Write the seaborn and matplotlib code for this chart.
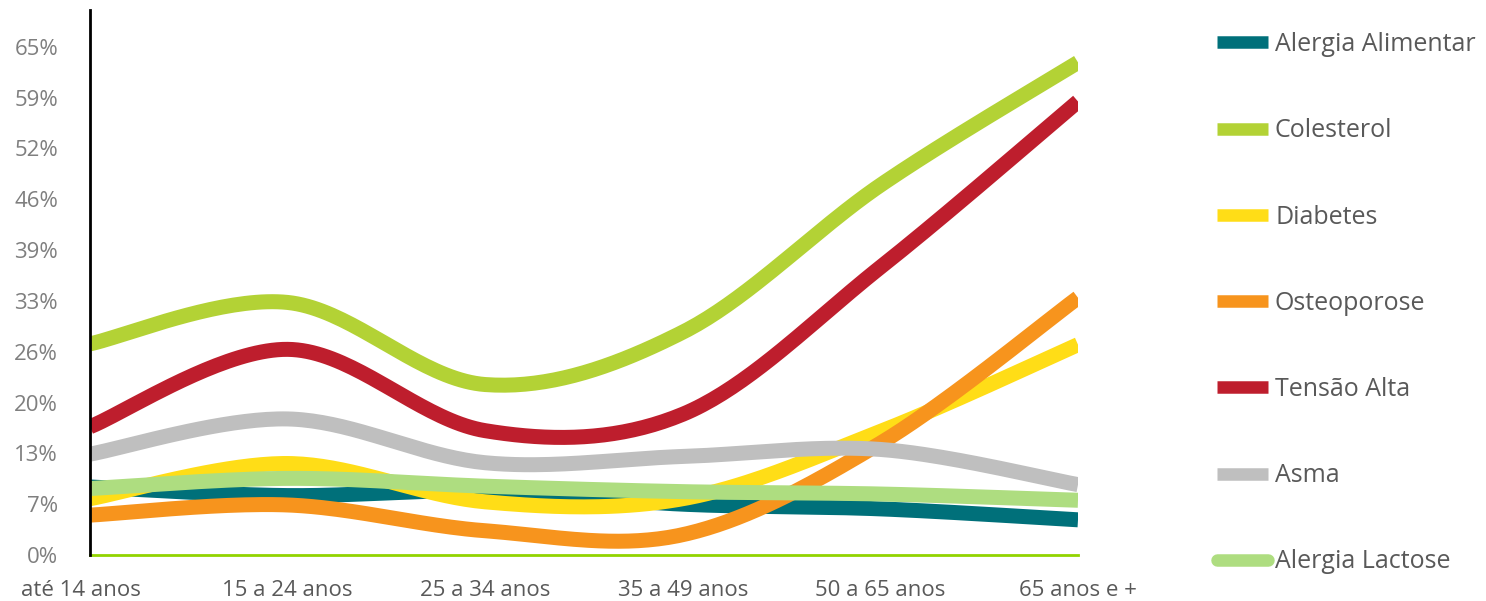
import numpy as np
import pandas as pd
import matplotlib
matplotlib.use("Agg")
import matplotlib.pyplot as plt
import matplotlib.transforms as mtransforms
from matplotlib.lines import Line2D
import seaborn as sns

# Age groups on the x axis
categories = ["até 14 anos", "15 a 24 anos", "25 a 34 anos",
              "35 a 49 anos", "50 a 65 anos", "65 anos e +"]

# Share of respondents per condition and age group (%)
alergia_alimentar = [8.7, 7.6, 8.2, 6.5, 5.9, 4.5]
colesterol = [27.0, 32.3, 21.8, 28.5, 47.3, 63.0]
diabetes = [7.2, 11.7, 6.8, 7.2, 15.8, 26.9]
osteoporose = [5.1, 6.4, 3.1, 2.6, 14.3, 32.9]
tensao_alta = [16.4, 26.3, 15.9, 18.0, 36.8, 58.0]
asma = [12.9, 17.4, 11.8, 12.6, 13.5, 9.0]
alergia_lactose = [8.5, 9.8, 8.8, 8.1, 7.8, 7.0]

series_names = ["Alergia Alimentar", "Colesterol", "Diabetes", "Osteoporose",
                "Tensão Alta", "Asma", "Alergia Lactose"]
series_values = [alergia_alimentar, colesterol, diabetes, osteoporose,
                 tensao_alta, asma, alergia_lactose]
colors = ["#00707A", "#B3D235", "#FFDD17", "#F7941D",
          "#BE1E2D", "#BFBFBF", "#AEDD80"]

# Y axis ticks and their labels
y_ticks = [0.0, 6.5, 13.0, 19.5, 26.0, 32.5, 39.0, 45.5, 52.0, 58.5, 65.0]
y_tick_labels = ["0%", "7%", "13%", "20%", "26%", "33%",
                 "39%", "46%", "52%", "59%", "65%"]


def smooth(xs, ys, steps=40):
    """Catmull-Rom style bezier smoothing that passes through every point."""
    xs = np.asarray(xs, float)
    ys = np.asarray(ys, float)
    n = len(xs)
    out_x, out_y = [], []
    for i in range(n - 1):
        p0 = (xs[max(i - 1, 0)], ys[max(i - 1, 0)])
        p1 = (xs[i], ys[i])
        p2 = (xs[i + 1], ys[i + 1])
        p3 = (xs[min(i + 2, n - 1)], ys[min(i + 2, n - 1)])
        c1 = (p1[0] + (p2[0] - p0[0]) / 6, p1[1] + (p2[1] - p0[1]) / 6)
        c2 = (p2[0] - (p3[0] - p1[0]) / 6, p2[1] - (p3[1] - p1[1]) / 6)
        t = np.linspace(0, 1, steps, endpoint=(i == n - 2))
        b0 = (1 - t) ** 3
        b1 = 3 * (1 - t) ** 2 * t
        b2 = 3 * (1 - t) * t ** 2
        b3 = t ** 3
        out_x.extend(b0 * p1[0] + b1 * c1[0] + b2 * c2[0] + b3 * p2[0])
        out_y.extend(b0 * p1[1] + b1 * c1[1] + b2 * c2[1] + b3 * p2[1])
    return np.array(out_x), np.array(out_y)


frames = []
positions = np.arange(len(categories))
for name, vals in zip(series_names, series_values):
    sx, sy = smooth(positions, vals)
    frames.append(pd.DataFrame({"x": sx, "y": sy, "serie": name}))
data = pd.concat(frames, ignore_index=True)

sns.set_style("white")
plt.rcParams["font.family"] = ["Open Sans", "DejaVu Sans"]

fig = plt.figure(figsize=(14.86, 6.01), dpi=100)
ax = fig.add_axes([90 / 1486, 46 / 601, 988 / 1486, 545 / 601])

line_w = 10.8
for name, col in zip(series_names, colors):
    sub = data[data["serie"] == name]
    sns.lineplot(data=sub, x="x", y="y", sort=False, estimator=None,
                 color=col, linewidth=line_w, ax=ax, legend=False,
                 solid_capstyle="butt")

ax.set_xlim(0, len(categories) - 1)
ax.set_ylim(0, 69.7)
ax.set_xticks(positions)
ax.set_xticklabels(categories)
ax.set_yticks(y_ticks)
ax.set_yticklabels(y_tick_labels)
ax.set_xlabel("")
ax.set_ylabel("")
ax.tick_params(axis="both", length=0, labelsize=16)
ax.tick_params(axis="y", pad=23, labelcolor="#7F7F7F")
ax.tick_params(axis="x", pad=18, labelcolor="#595959")

# first category label sits a little left of its tick
first = ax.get_xticklabels()[0]
first.set_transform(first.get_transform() +
                    mtransforms.ScaledTranslation(-9 / 100, 0, fig.dpi_scale_trans))

for side in ["top", "right"]:
    ax.spines[side].set_visible(False)
ax.spines["left"].set_color("black")
ax.spines["left"].set_linewidth(2)
ax.spines["bottom"].set_color("#92D400")
ax.spines["bottom"].set_linewidth(2)
ax.spines["left"].set_zorder(5)

handles = []
for name, col in zip(series_names, colors):
    cap = "round" if name == "Alergia Lactose" else "butt"
    handles.append(Line2D([0], [0], color=col, linewidth=9,
                          solid_capstyle=cap))
leg = fig.legend(handles, series_names, loc="upper left",
                 bbox_to_anchor=(1217 / 1486, 1 - 32 / 601),
                 frameon=False, fontsize=18, labelcolor="#595959",
                 handlelength=2.04, handletextpad=0.28,
                 labelspacing=2.45, borderaxespad=0, borderpad=0)

fig.savefig("out.png", dpi=100)
